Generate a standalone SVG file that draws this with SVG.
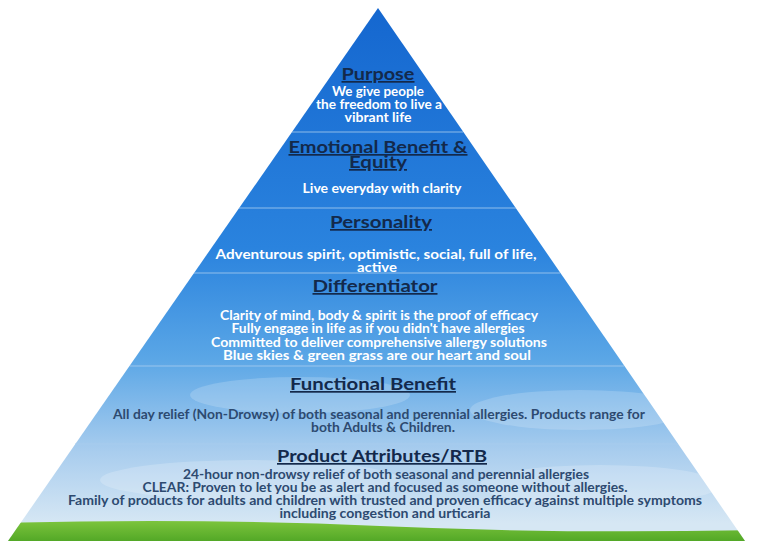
<svg xmlns="http://www.w3.org/2000/svg" width="757" height="551" viewBox="0 0 757 551">
<style>
.t{font-family:Lato,"Open Sans",sans-serif;font-weight:bold;font-size:17px;fill:#13294b;text-anchor:middle;text-decoration:underline}
.w{font-family:Lato,"Open Sans",sans-serif;font-weight:bold;font-size:12.5px;fill:#fff;text-anchor:middle}
.d{font-family:Lato,"Open Sans",sans-serif;font-weight:bold;font-size:12.5px;fill:#2d4a70;text-anchor:middle}
.sep{stroke:#a9cdf0;stroke-width:1.2;opacity:0.8}
</style>
<defs>
<linearGradient id="sky" x1="0" y1="0" x2="0" y2="1">
<stop offset="0" stop-color="#1466cf"/>
<stop offset="0.45" stop-color="#2a83de"/>
<stop offset="0.65" stop-color="#5aa6e6"/>
<stop offset="0.82" stop-color="#a9cdee"/>
<stop offset="0.95" stop-color="#d6e7f4"/>
</linearGradient>
<linearGradient id="grass" x1="0" y1="0" x2="0" y2="1">
<stop offset="0" stop-color="#7cc43c"/>
<stop offset="1" stop-color="#3e9a1c"/>
</linearGradient>
<clipPath id="pc"><polygon points="378,8 8,541 745,541"/></clipPath>
</defs>
<rect width="757" height="551" fill="#fff"/>
<g id="pyramid" clip-path="url(#pc)">
<rect x="0" y="0" width="757" height="551" fill="url(#sky)"/>
<ellipse cx="300" cy="395" rx="110" ry="18" fill="#fff" opacity="0.18"/>
<ellipse cx="580" cy="410" rx="110" ry="20" fill="#fff" opacity="0.18"/>
<ellipse cx="250" cy="480" rx="150" ry="20" fill="#fff" opacity="0.2"/>
<ellipse cx="600" cy="485" rx="120" ry="20" fill="#fff" opacity="0.2"/>
<path d="M0,523 Q200,518 380,526 T757,530 L757,551 L0,551 Z" fill="url(#grass)"/>
</g>
<g id="connectors">
<line class="sep" x1="292" y1="132" x2="463" y2="132"/>
<line class="sep" x1="239" y1="208" x2="516" y2="208"/>
<line class="sep" x1="194" y1="273" x2="560" y2="273"/>
<line class="sep" x1="130" y1="366" x2="624" y2="366"/>
<line class="sep" x1="75" y1="444" x2="678" y2="444"/>
</g>
<g id="purpose">
<text class="t" x="378" y="80" textLength="73" lengthAdjust="spacingAndGlyphs">Purpose</text>
<text class="w" x="378" y="96" textLength="92" lengthAdjust="spacingAndGlyphs">We give people</text>
<text class="w" x="379" y="109" textLength="126" lengthAdjust="spacingAndGlyphs">the freedom to live a</text>
<text class="w" x="378" y="122" textLength="67" lengthAdjust="spacingAndGlyphs">vibrant life</text>
</g>
<g id="emotional">
<text class="t" x="378" y="153" textLength="179" lengthAdjust="spacingAndGlyphs">Emotional Benefit &amp;</text>
<text class="t" x="378" y="168" textLength="58" lengthAdjust="spacingAndGlyphs">Equity</text>
<text class="w" x="382" y="193" textLength="159" lengthAdjust="spacingAndGlyphs">Live everyday with clarity</text>
</g>
<g id="personality">
<text class="t" x="381" y="228" textLength="102" lengthAdjust="spacingAndGlyphs">Personality</text>
<text class="w" x="376" y="259" textLength="321" lengthAdjust="spacingAndGlyphs">Adventurous spirit, optimistic, social, full of life,</text>
<text class="w" x="377" y="272" textLength="40" lengthAdjust="spacingAndGlyphs">active</text>
</g>
<g id="differentiator">
<text class="t" x="375" y="292" textLength="125" lengthAdjust="spacingAndGlyphs">Differentiator</text>
<text class="w" x="379" y="320" textLength="318" lengthAdjust="spacingAndGlyphs">Clarity of mind, body &amp; spirit is the proof of efficacy</text>
<text class="w" x="378" y="333" textLength="293" lengthAdjust="spacingAndGlyphs">Fully engage in life as if you didn't have allergies</text>
<text class="w" x="379" y="347" textLength="336" lengthAdjust="spacingAndGlyphs">Committed to deliver comprehensive allergy solutions</text>
<text class="w" x="377" y="360" textLength="308" lengthAdjust="spacingAndGlyphs">Blue skies &amp; green grass are our heart and soul</text>
</g>
<g id="functional">
<text class="t" x="373" y="390" textLength="166" lengthAdjust="spacingAndGlyphs">Functional Benefit</text>
<text class="d" x="379" y="419" textLength="532" lengthAdjust="spacingAndGlyphs">All day relief (Non-Drowsy) of both seasonal and perennial allergies.  Products range for</text>
<text class="d" x="383" y="432" textLength="144" lengthAdjust="spacingAndGlyphs">both Adults &amp; Children.</text>
</g>
<g id="product">
<text class="t" x="382" y="462" textLength="210" lengthAdjust="spacingAndGlyphs">Product Attributes/RTB</text>
<text class="d" x="386" y="479" textLength="406" lengthAdjust="spacingAndGlyphs">24-hour non-drowsy relief of both seasonal and perennial allergies</text>
<text class="d" x="385" y="492" textLength="485" lengthAdjust="spacingAndGlyphs">CLEAR: Proven to let you be as alert and focused as someone without allergies.</text>
<text class="d" x="385" y="505" textLength="634" lengthAdjust="spacingAndGlyphs">Family of products for adults and children with trusted and proven efficacy against multiple symptoms</text>
<text class="d" x="385" y="518" textLength="211" lengthAdjust="spacingAndGlyphs">including congestion and urticaria</text>
</g>
</svg>
